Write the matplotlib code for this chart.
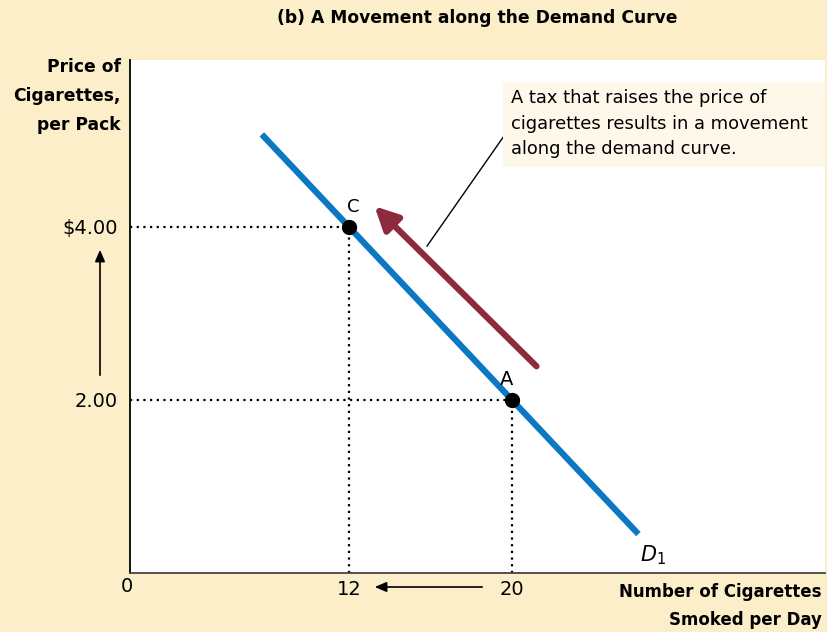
import numpy as np
import matplotlib
matplotlib.use('Agg')
import matplotlib.pyplot as plt
from matplotlib.patches import Rectangle, FancyArrowPatch

# demand curve D1: Q = 28 - 4P (diagram units)
demand_price = [5.07, 0.45]
demand_qty = [28 - 4 * p for p in demand_price]
points = {'C': (12, 4.0), 'A': (20, 2.0)}
xtick_vals = [12, 20]
xtick_labels = ['12', '20']
ytick_vals = [4.0, 2.0]
ytick_labels = ['$4.00', '2.00']
tax_arrow_start = (21.2, 2.39)
tax_arrow_end = (13.25, 4.24)

cream = '#fbeec9'
blue = '#0b78c3'
wine = '#8b2b3b'

plt.rcParams['font.family'] = ['DejaVu Sans']

W, H = 828, 632
fig = plt.figure(figsize=(W/100, H/100), dpi=100, facecolor=cream)
ax = fig.add_axes([130/W, 59/H, 695/W, 513/H])
ax.set_xlim(1.25, 35.36)
ax.set_ylim(0, 5.93)
for s in ['top', 'right']:
    ax.spines[s].set_visible(False)
ax.spines['left'].set_color('black')
ax.spines['bottom'].set_color('#444444')
ax.spines['left'].set_linewidth(1.3)
ax.spines['bottom'].set_linewidth(1.3)
ax.set_xticks(xtick_vals)
ax.set_xticklabels(xtick_labels, fontsize=14)
ax.set_yticks(ytick_vals)
ax.set_yticklabels(ytick_labels, fontsize=14)
ax.tick_params(length=0, pad=9)
ax.tick_params(axis='x', pad=5)

# dotted guides
for name, (q, p) in points.items():
    ax.plot([1.25, q], [p, p], color='black', ls=(0, (1, 2)), lw=1.6)
    ax.plot([q, q], [0, p], color='black', ls=(0, (1, 2)), lw=1.6)

ax.plot(demand_qty, demand_price, color=blue, lw=4.5, solid_capstyle='butt')

for name, (q, p) in points.items():
    ax.plot(q, p, 'o', color='black', ms=10, zorder=5)
ax.text(12.2, 4.13, 'C', fontsize=13, ha='center', va='bottom')
ax.text(19.75, 2.13, 'A', fontsize=14, ha='center', va='bottom')
ax.text(26.3, 0.2, r'$D_1$', fontsize=15, ha='left', va='center')

# movement along the curve
ax.annotate('', xy=tax_arrow_end, xytext=tax_arrow_start,
            arrowprops=dict(arrowstyle='-|>,head_length=1.4,head_width=0.7',
                            color=wine, lw=4.5, shrinkA=0, shrinkB=0))

# callout
ax.plot([15.83, 19.6], [3.78, 5.05], color='black', lw=1)
fig.patches.append(Rectangle((503/W, 1 - 167/H), 322/W, 85/H, transform=fig.transFigure,
                             fc='#fdf8e9', ec='none', zorder=3))
fig.text(511/W, 1 - 89/H,
         'A tax that raises the price of\ncigarettes results in a movement\nalong the demand curve.',
         fontsize=12.9, va='top', ha='left', linespacing=1.55, zorder=4)

fig.text(477/W, 1 - 18/H, '(b) A Movement along the Demand Curve',
         ha='center', va='center', fontsize=12.3, fontweight='bold')
fig.text(121/W, 1 - 96/H, 'Price of\nCigarettes,\nper Pack', ha='right', va='center',
         fontsize=12.3, fontweight='bold', linespacing=1.8)
fig.text(822/W, 1 - 606/H, 'Number of Cigarettes\nSmoked per Day', ha='right', va='center',
         fontsize=12.0, fontweight='bold', linespacing=1.75)
fig.text(127/W, 1 - 587/H, '0', ha='center', va='center', fontsize=14)

# arrows outside the axes
fig.patches.append(FancyArrowPatch(
    (100/W, 1 - 378/H), (100/W, 1 - 247/H), transform=fig.transFigure,
    arrowstyle='-|>,head_length=7,head_width=3', color='black', lw=1.2, mutation_scale=1))
fig.patches.append(FancyArrowPatch(
    (485/W, 1 - 587/H), (372/W, 1 - 587/H), transform=fig.transFigure,
    arrowstyle='-|>,head_length=7,head_width=3', color='black', lw=1.2, mutation_scale=1))

fig.savefig('out.png', dpi=100, facecolor=cream)
